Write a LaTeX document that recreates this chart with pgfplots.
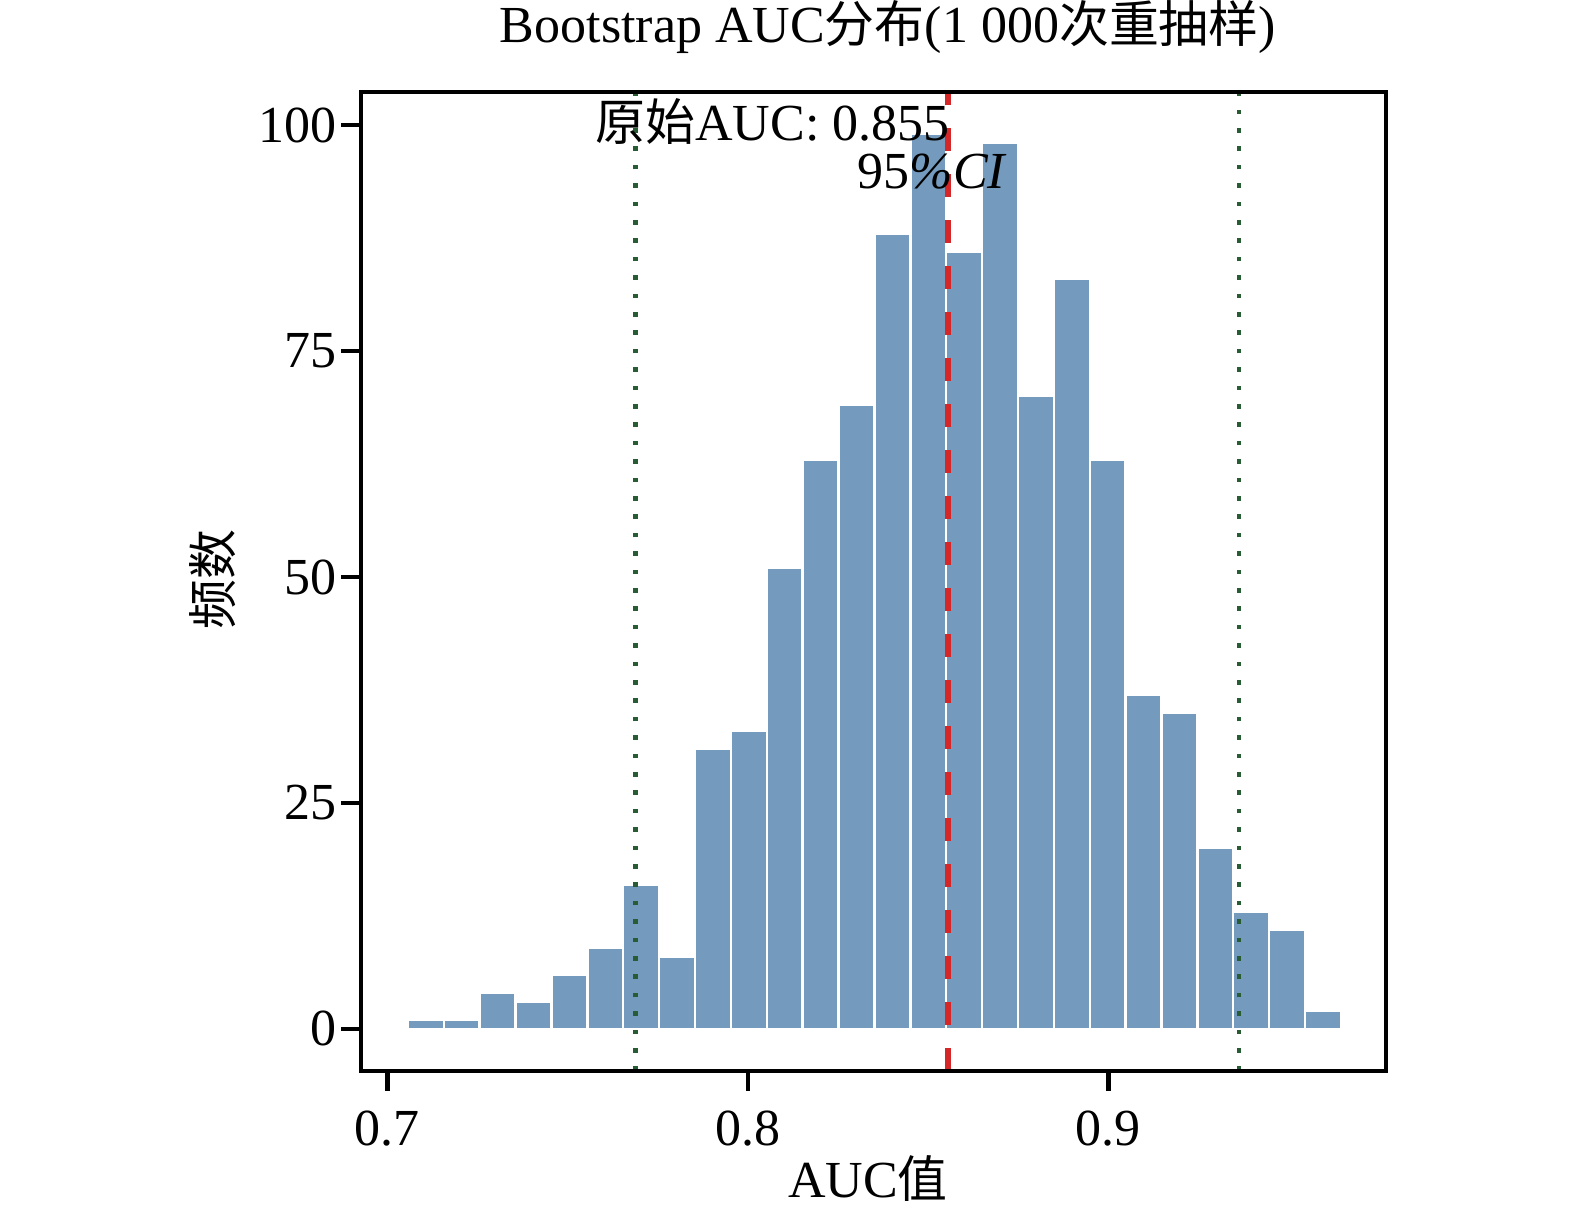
\documentclass[border=0pt]{standalone}
\usepackage{fontspec}
\setmainfont{Liberation Serif}
\newfontfamily\cjk{Noto Sans CJK SC}[Scale=0.96]
\usepackage{pgfplots}
\pgfplotsset{compat=1.18}
\definecolor{barblue}{RGB}{116,154,189}
\definecolor{linered}{RGB}{214,39,40}
\definecolor{dotgreen}{RGB}{40,92,52}

\begin{document}
\fontsize{13pt}{15pt}\selectfont
\begin{tikzpicture}
\useasboundingbox (0,0) rectangle (393.75pt,305pt);
\begin{axis}[
  at={(90.25pt,37.25pt)}, anchor=south west,
  scale only axis, width=256.25pt, height=244.75pt,
  xmin=0.6927, xmax=0.9770, ymin=-4.65, ymax=103.65,
  axis line style={line width=1.1pt, black},
  tick style={line width=1.1pt, black},
  major tick length=5pt,
  tick align=outside,
  xtick={0.7,0.8,0.9}, ytick={0,25,50,75,100},
  xtick pos=bottom, ytick pos=left,
  minor tick num=0,
  /pgf/number format/assume math mode=true,
  ticklabel style={font=\fontsize{13pt}{15pt}\selectfont},
  yticklabel style={xshift=3.5pt},
  xticklabel style={yshift=-0.5pt, /pgf/number format/fixed, /pgf/number format/precision=1, /pgf/number format/fixed zerofill},
  axis on top,
]
\addplot[ybar interval, fill=barblue, draw=white, line width=0.6pt] coordinates {
(0.70570,1) (0.71565,1) (0.72561,4) (0.73556,3) (0.74552,6) (0.75547,9)
(0.76542,16) (0.77538,8) (0.78533,31) (0.79529,33) (0.80524,51) (0.81519,63)
(0.82515,69) (0.83510,88) (0.84506,99) (0.85501,86) (0.86496,98) (0.87492,70)
(0.88487,83) (0.89483,63) (0.90478,37) (0.91473,35) (0.92469,20) (0.93464,13)
(0.94460,11) (0.95455,2) (0.96450,2)
};
\addplot[linered, line width=1.5pt, dash pattern=on 5.75pt off 5.75pt] coordinates {(0.8555,-4.65) (0.8555,103.65)};
\addplot[dotgreen, line width=1.15pt, dash pattern=on 1.15pt off 3.45pt] coordinates {(0.7688,-4.65) (0.7688,103.65)};
\addplot[dotgreen, line width=1.15pt, dash pattern=on 1.15pt off 3.45pt] coordinates {(0.9362,-4.65) (0.9362,103.65)};
\node[anchor=base east, inner sep=0pt] at (axis cs:0.8562,98.3) {{\cjk 原始}AUC: 0.855};
\node[anchor=base, inner sep=0pt] at (axis cs:0.8512,93.0) {95\textit{\%CI}};
\end{axis}
\node[anchor=base, inner sep=0pt] at (222pt,294.25pt) {Bootstrap AUC{\cjk 分布}(1 000{\cjk 次重抽样})};
\node[anchor=base, inner sep=0pt] at (217pt,5.5pt) {AUC{\cjk 值}};
\node[rotate=90, inner sep=0pt] at (53.25pt,160pt) {\cjk 频数};
\end{tikzpicture}
\end{document}
